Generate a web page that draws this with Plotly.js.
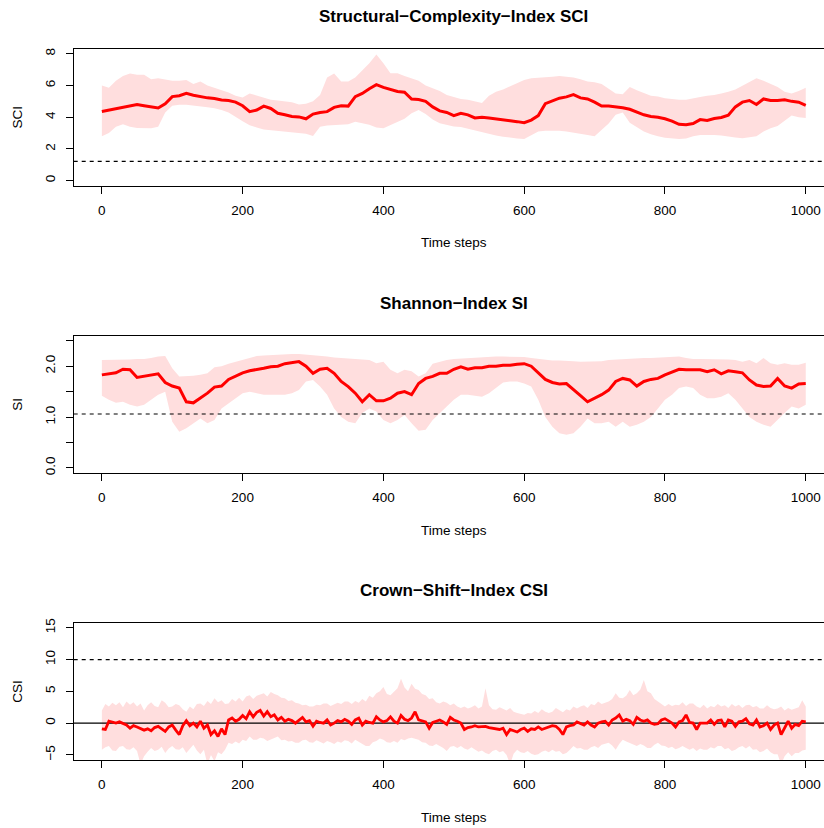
<!DOCTYPE html>
<html><head><meta charset="utf-8">
<script src="https://cdn.plot.ly/plotly-3.0.1.min.js"></script>
<style>html,body{margin:0;padding:0;overflow:hidden;background:#fff}#chart{width:840px;height:828px}</style>
</head><body><div id="chart"></div><script>
// ---- data ----
const titles = ["Structural\u2212Complexity\u2212Index SCI", "Shannon\u2212Index SI", "Crown\u2212Shift\u2212Index CSI"];
const yLabels = ["SCI", "SI", "CSI"];
const xLabel = "Time steps";
const thresholds = [1.22, 1.06, 10];

const sciMean = [4.36,4.45,4.55,4.62,4.75,4.80,4.72,4.65,4.58,4.85,
 5.30,5.35,5.50,5.38,5.28,5.22,5.18,5.08,5.05,4.95,
 4.72,4.35,4.45,4.70,4.55,4.25,4.15,4.05,4.02,3.90,
 4.20,4.30,4.35,4.62,4.72,4.70,5.30,5.50,5.80,6.05,
 5.88,5.75,5.62,5.58,5.15,5.12,5.00,4.65,4.40,4.30,
 4.10,4.25,4.15,3.95,4.00,3.95,3.88,3.82,3.78,3.72,
 3.65,3.82,4.10,4.85,5.05,5.20,5.28,5.42,5.22,5.15,
 4.95,4.70,4.70,4.65,4.60,4.50,4.30,4.15,4.05,4.00,
 3.90,3.75,3.55,3.52,3.60,3.85,3.80,3.92,3.98,4.12,
 4.65,4.95,5.05,4.80,5.15,5.05,5.05,5.10,5.00,4.95,
 4.75];
const sciUpper = [6.00,5.85,6.30,6.60,6.75,6.67,6.67,6.40,6.45,6.38,
 6.30,6.30,6.35,6.10,6.25,6.00,5.85,5.70,5.55,5.35,
 5.25,5.50,5.35,5.25,5.10,5.05,5.00,4.95,4.80,4.85,
 5.00,5.40,6.50,6.75,6.25,6.25,6.50,6.95,7.40,7.95,
 7.40,6.77,6.77,6.60,6.45,6.30,6.00,5.85,5.65,5.40,
 5.25,5.14,5.10,5.00,4.90,5.35,5.60,5.75,5.95,6.20,
 6.35,6.45,6.50,6.52,6.55,6.60,6.55,6.50,6.40,6.25,
 6.20,6.10,5.80,5.50,5.45,5.90,5.70,5.50,5.35,5.30,
 5.20,5.15,5.10,5.10,5.20,5.28,5.35,5.40,5.50,5.60,
 5.75,6.00,6.20,6.45,6.30,6.10,5.90,5.60,5.50,5.65,
 5.85];
const sciLower = [2.80,3.00,3.40,3.55,3.40,3.32,3.30,3.30,3.40,4.30,
 4.72,4.78,4.78,4.75,4.67,4.62,4.57,4.45,4.30,4.00,
 3.75,3.50,3.35,3.22,3.15,3.10,3.07,3.04,3.00,2.96,
 2.82,3.40,3.48,3.52,3.52,3.55,3.72,3.62,3.52,3.35,
 3.30,3.52,3.70,3.90,4.25,4.45,4.20,3.85,3.62,3.50,
 3.42,3.38,3.28,3.18,3.05,2.95,2.85,2.77,2.70,2.66,
 2.62,2.85,3.10,3.15,3.17,3.15,3.10,3.02,2.96,2.88,
 2.80,3.20,3.60,4.15,4.30,3.65,3.35,3.10,2.92,2.80,
 2.70,2.66,2.62,2.65,2.80,2.88,2.88,2.88,2.85,2.80,
 2.72,2.68,2.75,2.80,3.10,3.30,3.45,3.80,4.10,4.00,
 3.95];

const siMean = [1.83,1.85,1.87,1.94,1.93,1.78,1.80,1.83,1.85,1.68,
 1.61,1.57,1.30,1.28,1.37,1.47,1.59,1.61,1.74,1.80,
 1.87,1.91,1.93,1.96,1.99,2.00,2.05,2.07,2.09,2.00,
 1.86,1.94,1.96,1.86,1.70,1.60,1.47,1.30,1.44,1.32,
 1.32,1.37,1.47,1.50,1.44,1.66,1.76,1.80,1.86,1.86,
 1.94,1.99,1.94,1.97,1.97,2.00,2.00,2.02,2.02,2.04,
 2.05,2.00,1.86,1.74,1.68,1.65,1.66,1.53,1.42,1.30,
 1.37,1.44,1.53,1.70,1.76,1.73,1.61,1.70,1.74,1.76,
 1.83,1.89,1.94,1.93,1.93,1.93,1.89,1.93,1.85,1.91,
 1.89,1.87,1.73,1.63,1.60,1.61,1.76,1.61,1.57,1.65,
 1.66];
const siUpper = [2.12,2.12,2.13,2.12,2.13,2.14,2.14,2.16,2.19,2.20,
 1.96,1.80,1.80,1.81,1.83,1.86,1.98,2.00,2.05,2.09,
 2.12,2.16,2.20,2.21,2.22,2.23,2.24,2.24,2.24,2.23,
 2.22,2.20,2.19,2.17,2.16,2.15,2.14,2.13,2.12,2.06,
 2.09,1.93,1.86,1.93,1.90,1.80,1.86,2.05,2.09,2.12,
 2.14,2.15,2.16,2.17,2.18,2.18,2.19,2.19,2.19,2.18,
 2.18,2.16,2.14,2.12,2.11,2.11,2.11,2.10,2.09,2.09,
 2.09,2.10,2.12,2.13,2.14,2.15,2.16,2.16,2.16,2.17,
 2.18,2.19,2.19,2.16,2.14,2.14,2.14,2.14,2.14,2.13,
 2.12,2.09,2.12,2.06,2.16,2.06,2.03,2.06,2.03,2.03,
 2.07];
const siLower = [1.42,1.34,1.28,1.30,1.24,1.21,1.24,1.34,1.44,1.50,
 0.91,0.71,0.78,0.88,0.97,0.88,0.94,1.17,1.27,1.37,
 1.47,1.50,1.47,1.44,1.44,1.44,1.44,1.47,1.53,1.70,
 1.73,1.60,1.44,1.17,1.00,0.91,0.88,1.08,1.17,1.11,
 0.94,0.88,0.94,1.04,0.88,0.73,0.75,0.94,1.08,1.21,
 1.34,1.44,1.44,1.42,1.40,1.47,1.57,1.68,1.70,1.70,
 1.66,1.60,1.34,1.00,0.81,0.68,0.65,0.68,0.81,0.97,
 0.88,0.88,0.91,0.81,0.91,0.81,0.85,0.91,1.00,1.17,
 1.34,1.44,1.57,1.60,1.57,1.44,1.37,1.37,1.40,1.47,
 1.34,1.17,1.00,0.91,0.85,0.81,0.94,1.08,1.21,1.17,
 1.24];

const csiMean = [-0.9,-1.0,0.3,0.1,0.0,0.2,0.0,-0.3,-0.8,-0.4,-0.6,-0.9,-1.1,-0.9,-1.2,-0.7,-0.5,-0.9,-1.3,-0.6,
 -0.3,-1.1,-1.8,-0.4,0.4,-0.4,0.0,-0.6,0.3,-0.8,-0.3,-1.8,-1.2,-2.1,-0.9,-1.8,0.5,0.8,0.3,0.6,
 1.2,0.7,1.8,1.0,1.7,2.0,1.1,1.8,1.0,1.3,0.5,0.9,0.3,0.6,0.4,0.0,0.5,0.9,0.2,0.4,
 -0.5,0.3,0.1,0.0,0.5,-0.3,0.0,0.4,0.2,0.6,0.3,-0.2,0.5,0.8,-0.3,0.3,0.1,0.0,1.0,0.5,
 0.2,0.4,1.0,0.3,0.0,1.2,0.6,0.4,0.8,1.8,0.5,0.3,0.2,-0.8,0.1,0.3,0.5,0.2,-0.2,0.9,
 0.5,0.3,0.0,-1.0,-0.7,-0.6,-0.4,-0.6,-0.5,-0.5,-0.7,-0.8,-0.9,-1.0,-0.8,-1.8,-1.0,-1.2,-1.4,-1.0,
 -0.8,-1.3,-0.9,-1.0,-0.6,-1.0,-0.8,-0.6,-0.4,-0.5,-1.0,-1.8,-0.6,-0.4,-0.3,0.2,0.0,-0.3,0.2,-0.3,
 -0.6,0.0,0.2,0.3,-0.3,0.5,0.8,1.3,0.3,0.6,0.4,-0.2,0.9,0.5,0.3,0.5,0.0,-0.2,-0.1,0.5,
 0.7,0.4,0.0,-0.6,0.2,0.4,1.3,0.1,0.0,-1.0,0.0,0.0,0.0,0.5,-0.2,0.4,0.5,-0.6,0.5,0.3,
 -0.5,0.2,0.3,0.7,-0.1,-0.3,0.5,-0.6,-0.4,0.0,-1.0,-0.3,0.0,-1.8,-0.8,0.3,-0.8,-0.2,-0.4,0.3,
 0.2];
const csiUpper = [2.0,3.0,2.6,3.2,2.8,3.3,2.5,3.4,2.9,3.3,2.6,3.1,2.0,2.8,3.3,2.7,2.5,3.6,3.2,2.5,
 2.6,3.0,2.8,2.2,1.8,2.6,2.2,3.0,3.1,2.7,3.5,3.0,3.9,3.3,3.6,3.0,3.1,3.8,3.4,4.0,
 3.4,4.2,4.4,3.8,4.3,4.5,4.7,4.2,4.9,4.6,4.4,4.0,3.9,3.5,3.6,3.2,3.1,2.8,2.9,2.6,
 2.6,2.9,2.8,3.1,3.1,2.7,2.9,3.2,3.0,3.4,3.4,3.0,3.5,3.2,3.8,3.4,4.3,4.0,4.7,5.0,
 5.7,4.6,4.4,5.0,5.5,7.0,5.6,5.0,6.2,5.4,5.2,4.6,4.4,3.8,3.9,3.3,3.1,3.4,3.2,2.8,
 3.1,2.6,2.4,2.6,2.3,2.5,2.8,2.3,2.6,5.5,2.8,2.2,2.1,2.5,2.3,2.0,2.4,1.8,1.6,1.5,
 1.3,1.6,1.5,1.9,1.6,2.2,1.8,1.6,1.8,2.4,2.1,1.7,2.2,2.0,2.6,2.3,2.6,2.8,2.4,3.0,
 2.8,3.4,3.0,3.2,3.4,3.8,4.7,4.0,3.9,4.3,5.2,4.4,4.7,5.3,6.8,5.0,4.7,3.8,3.4,2.9,
 2.6,3.0,2.7,2.9,2.8,3.3,2.7,3.1,3.1,2.6,2.4,2.9,2.3,2.7,2.5,3.0,2.6,2.8,2.4,3.0,
 2.6,2.9,2.4,2.8,2.9,2.5,2.7,2.3,2.3,2.8,2.4,2.2,2.3,2.6,2.0,2.4,2.1,2.3,2.5,3.6,
 2.6];
const csiLower = [-4.2,-3.8,-3.6,-4.3,-4.4,-3.7,-3.6,-4.1,-4.2,-3.8,-4.4,-6.5,-5.2,-4.5,-3.9,-4.4,-4.2,-3.7,-4.7,-4.0,
 -3.6,-4.1,-4.2,-3.8,-4.7,-4.0,-3.4,-4.3,-4.9,-4.2,-6.5,-5.0,-6.0,-4.6,-4.9,-4.2,-3.1,-3.3,-2.9,-3.2,
 -2.6,-2.8,-2.1,-2.6,-2.6,-2.3,-2.4,-2.8,-2.6,-2.3,-2.1,-2.7,-2.6,-2.9,-2.8,-3.1,-3.1,-2.7,-2.6,-3.0,
 -3.1,-2.7,-2.9,-3.2,-2.8,-3.0,-3.3,-2.9,-3.1,-2.7,-2.8,-3.2,-2.6,-3.0,-3.3,-3.6,-3.6,-3.0,-2.8,-2.4,
 -2.6,-3.0,-3.1,-2.8,-3.1,-2.5,-2.7,-2.4,-2.3,-2.5,-2.6,-3.0,-3.1,-3.5,-3.6,-3.3,-3.6,-3.9,-4.4,-3.7,
 -3.6,-3.9,-3.6,-4.0,-4.2,-3.8,-4.2,-4.5,-4.3,-4.7,-4.9,-4.4,-4.2,-4.6,-4.4,-5.0,-6.5,-4.8,-4.2,-4.6,
 -4.7,-4.4,-4.8,-5.0,-4.9,-4.5,-4.3,-4.6,-4.2,-4.5,-4.4,-4.9,-4.7,-4.2,-3.6,-4.0,-3.9,-4.2,-4.2,-3.8,
 -3.6,-3.9,-3.4,-3.2,-3.1,-3.5,-4.2,-3.3,-2.6,-2.9,-3.1,-3.4,-3.6,-3.3,-3.5,-3.9,-3.9,-3.4,-3.1,-3.5,
 -3.6,-3.9,-3.7,-4.1,-3.9,-3.6,-3.9,-4.2,-3.9,-4.4,-4.0,-4.2,-4.2,-3.8,-4.0,-3.6,-3.6,-4.1,-3.9,-4.4,
 -4.2,-3.8,-3.6,-4.0,-3.6,-4.2,-4.1,-4.6,-4.4,-4.0,-4.6,-4.9,-4.9,-6.5,-5.2,-4.6,-5.2,-4.7,-4.7,-4.3,
 -4.2];

const xTicks = [0, 200, 400, 600, 800, 1000];
const yTicks = [[0, 2, 4, 6, 8], [0, 0.5, 1, 1.5, 2, 2.5], [-5, 0, 5, 10, 15]];
const yTickText = [["0","2","4","6","8"], ["0.0","","1.0","","2.0",""], ["\u22125","0","5","10","15"]];
const xRange = [-40, 1040];
const yRanges = [[-0.32, 8.32], [-0.1, 2.6], [-5.8, 15.8]];

// ---- helpers ----
function steps(n, dt) { const a = []; for (let i = 0; i < n; i++) a.push(i * dt); return a; }
const t10 = steps(sciMean.length, 10);
const t5 = steps(csiMean.length, 5);

const W = 840, H = 828;
const box = { left: 73.7, right: 833.9 };
const panels = [{ top: 48.7, bottom: 185.7 }, { top: 335.7, bottom: 473 }, { top: 622.7, bottom: 760 }];
const px = v => v / W, py = v => 1 - v / H;

const RED = '#FF0000', BAND = '#FFDEDE';
const FONT = 'Liberation Sans, Arial, Helvetica, sans-serif';

const series = [
  { t: t10, mean: sciMean, up: sciUpper, lo: sciLower, lw: 3 },
  { t: t10, mean: siMean, up: siUpper, lo: siLower, lw: 3 },
  { t: t5, mean: csiMean, up: csiUpper, lo: csiLower, lw: 2.8 }
];

const data = [];
const layout = {
  width: W, height: H, margin: { l: 0, r: 0, t: 0, b: 0 },
  paper_bgcolor: '#fff', plot_bgcolor: '#fff', showlegend: false,
  font: { family: FONT, color: '#000', size: 13.5 },
  annotations: []
};

series.forEach((s, i) => {
  const xa = i === 0 ? 'x' : 'x' + (i + 1);
  const ya = i === 0 ? 'y' : 'y' + (i + 1);
  data.push({
    type: 'scatter', mode: 'lines', xaxis: xa, yaxis: ya,
    x: s.t.concat(s.t.slice().reverse()),
    y: s.up.concat(s.lo.slice().reverse()),
    fill: 'toself', fillcolor: BAND, line: { width: 0, color: BAND }, hoverinfo: 'skip'
  });
  data.push({
    type: 'scatter', mode: 'lines', xaxis: xa, yaxis: ya,
    x: xRange, y: [thresholds[i], thresholds[i]],
    line: { color: '#000', width: 1.2, dash: '4px,4px' }, hoverinfo: 'skip'
  });
  if (i === 2) {
    data.push({
      type: 'scatter', mode: 'lines', xaxis: xa, yaxis: ya,
      x: xRange, y: [0, 0], line: { color: '#000', width: 1.2 }, hoverinfo: 'skip'
    });
  }
  data.push({
    type: 'scatter', mode: 'lines', xaxis: xa, yaxis: ya,
    x: s.t, y: s.mean, line: { color: RED, width: s.lw }, hoverinfo: 'skip'
  });

  const p = panels[i];
  const axCommon = {
    showgrid: false, zeroline: false, showline: true, mirror: true,
    linecolor: '#000', linewidth: 1, ticks: 'outside', ticklen: 7, tickwidth: 1, tickcolor: '#000',
    tickfont: { family: FONT, size: 13.5, color: '#000' }, fixedrange: true
  };
  layout[i === 0 ? 'xaxis' : 'xaxis' + (i + 1)] = Object.assign({}, axCommon, {
    domain: [px(box.left), px(box.right)], range: xRange, anchor: ya,
    tickmode: 'array', tickvals: xTicks, ticktext: xTicks.map(String), ticklabelstandoff: 5
  });
  layout[i === 0 ? 'yaxis' : 'yaxis' + (i + 1)] = Object.assign({}, axCommon, {
    domain: [py(p.bottom), py(p.top)], range: yRanges[i], anchor: xa,
    tickmode: 'array', tickvals: yTicks[i], ticktext: yTickText[i], tickangle: -90, ticklabelstandoff: 5
  });
  const cx = (box.left + box.right) / 2;
  layout.annotations.push({
    xref: 'paper', yref: 'paper', x: px(cx), y: py(p.top - 32), xanchor: 'center', yanchor: 'middle',
    text: titles[i], showarrow: false, font: { family: FONT, size: 17, weight: 'bold', color: '#000' }
  });
  layout.annotations.push({
    xref: 'paper', yref: 'paper', x: px(cx), y: py(p.bottom + 57), xanchor: 'center', yanchor: 'middle',
    text: xLabel, showarrow: false, font: { family: FONT, size: 13.5, color: '#000' }
  });
  layout.annotations.push({
    xref: 'paper', yref: 'paper', x: px(17.3), y: py((p.top + p.bottom) / 2), xanchor: 'center', yanchor: 'middle',
    text: yLabels[i], textangle: -90, showarrow: false, font: { family: FONT, size: 13.5, color: '#000' }
  });
});

Plotly.newPlot('chart', data, layout, { displayModeBar: false, staticPlot: true });
</script></body></html>
